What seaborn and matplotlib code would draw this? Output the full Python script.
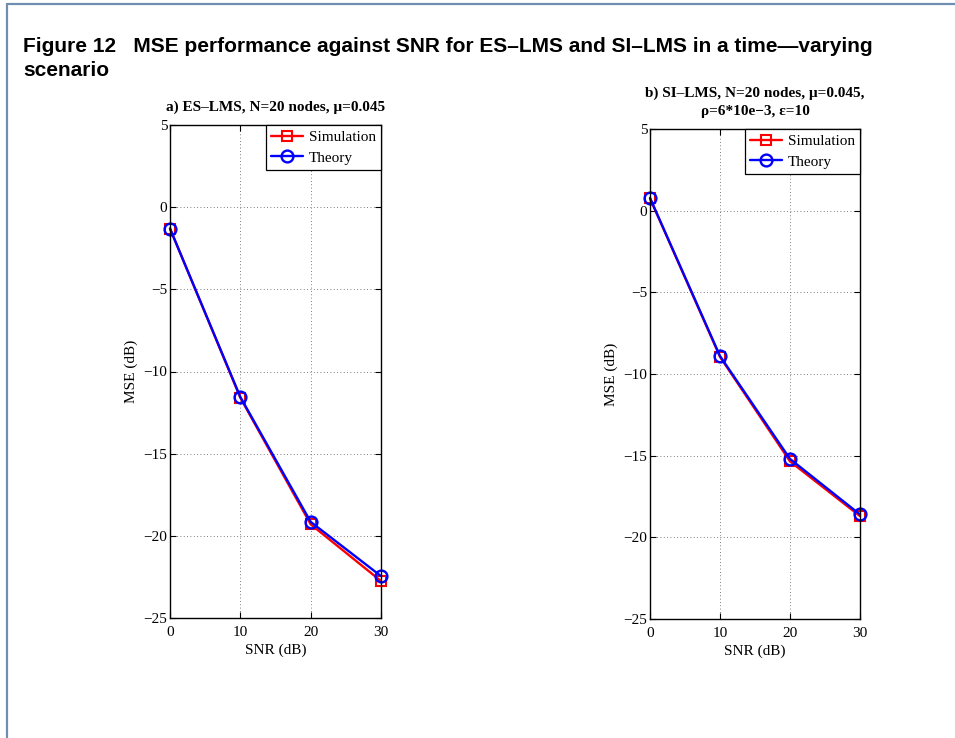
import matplotlib
matplotlib.use("Agg")
import matplotlib.pyplot as plt
from matplotlib.lines import Line2D
import numpy as np
import pandas as pd
import seaborn as sns

# SNR sweep (dB)
snr_db = [0, 10, 20, 30]

# a) ES-LMS, MSE in dB
es_sim = [-1.3, -11.6, -19.3, -22.75]
es_theory = [-1.3, -11.55, -19.15, -22.45]

# b) SI-LMS, MSE in dB
si_sim = [0.75, -8.95, -15.35, -18.7]
si_theory = [0.78, -8.9, -15.2, -18.6]

series_names = ["Simulation", "Theory"]
panel_titles = [
    "a) ES\u2013LMS, N=20 nodes, \u03bc=0.045",
    "b) SI\u2013LMS, N=20 nodes, \u03bc=0.045,\n\u03c1=6*10e\u22123, \u03b5=10",
]
fig_title = ("Figure 12   MSE performance against SNR for ES\u2013LMS and SI\u2013LMS in a time\u2014varying\n"
             "scenario")
x_ticks = [0, 10, 20, 30]
y_ticks = [-25, -20, -15, -10, -5, 0, 5]

sns.set_theme(style="white", rc={"text.color": "black", "axes.labelcolor": "black",
                                 "xtick.color": "black", "ytick.color": "black"})
plt.rcParams["font.family"] = ["Liberation Serif", "DejaVu Serif"]
plt.rcParams["mathtext.default"] = "regular"
plt.rcParams["axes.unicode_minus"] = True

fig = plt.figure(figsize=(9.55, 7.38), dpi=100)
fig.patch.set_facecolor("white")

# page frame (top and left edges)
frame_color = "#6f8eb0"
fig.add_artist(Line2D([6.5 / 955, 6.5 / 955], [0, 1 - 3.5 / 738], transform=fig.transFigure,
                      color=frame_color, lw=1.6))
fig.add_artist(Line2D([6.5 / 955, 1], [1 - 3.5 / 738, 1 - 3.5 / 738], transform=fig.transFigure,
                      color=frame_color, lw=1.6))

fig.text(23 / 955, 1 - 37 / 738, fig_title, ha="left", va="top", fontsize=15,
         fontweight="bold", family=["Liberation Sans", "DejaVu Sans"], linespacing=1.3,
         color="black")

axes_pos = [
    [170 / 955, 1 - 618 / 738, 211 / 955, 493 / 738],
    [650 / 955, 1 - 619 / 738, 210 / 955, 490 / 738],
]
panels = [(es_sim, es_theory), (si_sim, si_theory)]

red = "#ff0000"
blue = "#0000ff"

for pos, (sim, theo), title in zip(axes_pos, panels, panel_titles):
    ax = fig.add_axes(pos)
    df = pd.DataFrame({"SNR": snr_db * 2,
                       "MSE": list(sim) + list(theo),
                       "series": [series_names[0]] * len(snr_db) + [series_names[1]] * len(snr_db)})
    sns.lineplot(data=df[df["series"] == series_names[0]], x="SNR", y="MSE", ax=ax,
                 color=red, marker="s", markersize=7, mfc="none", mec=red, mew=1.5,
                 lw=1.7, label=series_names[0])
    sns.lineplot(data=df[df["series"] == series_names[1]], x="SNR", y="MSE", ax=ax,
                 color=blue, marker="o", markersize=8.5, mfc="none", mec=blue, mew=1.7,
                 lw=1.7, label=series_names[1])
    for ln in ax.lines:
        ln.set_clip_on(False)

    ax.set_xlim(0, 30)
    ax.set_ylim(-25, 5)
    ax.set_xticks(x_ticks)
    ax.set_yticks(y_ticks)
    ax.set_xticklabels([str(t) for t in x_ticks])
    ax.set_yticklabels([str(t).replace("-", "\u2212") for t in y_ticks])
    ax.grid(True, linestyle=(0, (1, 3)), color="#555555", lw=0.6)
    for s in ax.spines.values():
        s.set_visible(True)
        s.set_color("black")
        s.set_linewidth(1.0)
    ax.tick_params(direction="in", length=4, width=0.8, top=True, right=True,
                   bottom=True, left=True, labelsize=11, pad=2, colors="black")
    ax.tick_params(axis="x", pad=6)
    ax.set_xlabel("SNR (dB)", fontsize=11, labelpad=3)
    ax.set_ylabel("MSE (dB)", fontsize=11, labelpad=4)
    ax.set_title(title, fontsize=11, fontweight="bold", pad=10, linespacing=1.55)

    leg = ax.legend(loc="upper right", borderaxespad=0, fancybox=False, framealpha=1,
                    edgecolor="black", fontsize=11, handlelength=2.1, handletextpad=0.35,
                    borderpad=0.35, labelspacing=0.45)
    leg.get_frame().set_linewidth(0.9)

fig.savefig("out.png", dpi=100, facecolor="white")
